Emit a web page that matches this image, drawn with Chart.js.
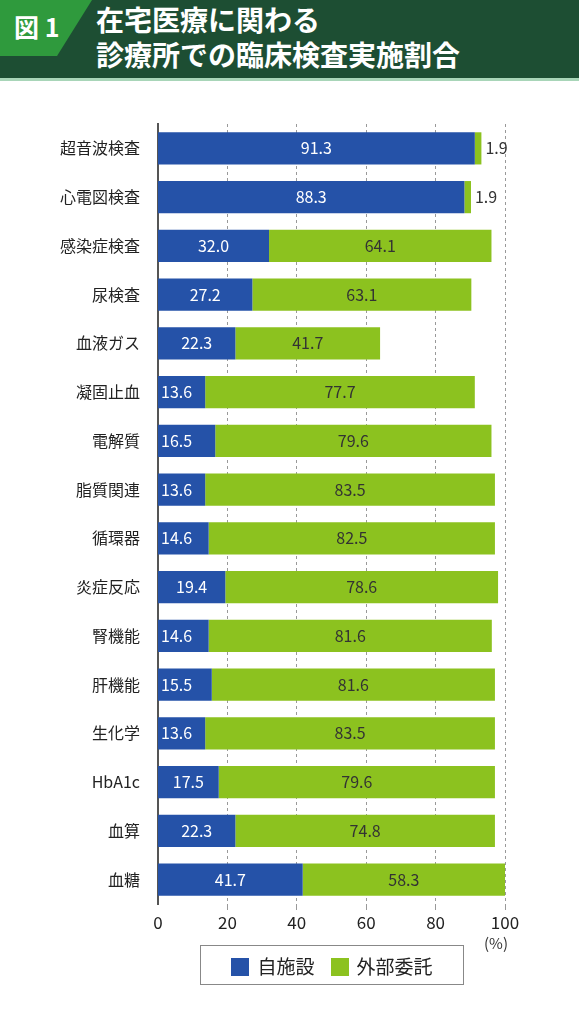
<!DOCTYPE html>
<html><head><meta charset="utf-8">
<script src="https://cdn.jsdelivr.net/npm/chart.js@4/dist/chart.umd.min.js"></script>
<style>
body{margin:0;width:579px;height:1024px;background:#fff;position:relative;font-family:"Noto Sans CJK JP",sans-serif;overflow:hidden}
#hdr{position:absolute;left:0;top:0;width:579px;height:78px;background:#1d4e33}
#tab{position:absolute;left:0;top:0;width:92px;height:56px;background:#2f9a3d;clip-path:polygon(0 0,100% 0,62% 100%,0 100%)}
#tabt{position:absolute;left:14px;top:8px;color:#fff;font-weight:bold;font-size:25px}
#ttl{position:absolute;left:96px;top:2px;color:#fff;font-weight:bold;font-size:28px;line-height:35px}
#line{position:absolute;left:0;top:78px;width:579px;height:3px;background:#a8d5b8}
#wrap{position:absolute;left:0;top:100px;width:579px;height:844px}
#pct{position:absolute;left:484px;top:932px;font-size:15px;color:#333}
#leg{position:absolute;left:200px;top:945px;width:264px;height:40px;border:1px solid #888;box-sizing:border-box;font-size:19px;color:#222;display:flex;align-items:center;justify-content:center;gap:16px}
.sw{display:inline-block;width:18px;height:18px;vertical-align:-2px;margin-right:8px}
</style></head><body>
<div id="hdr"></div><div id="tab"></div><div id="tabt">図 1</div>
<div id="ttl">在宅医療に関わる<br>診療所での臨床検査実施割合</div>
<div id="line"></div>
<div id="wrap"><canvas id="c"></canvas></div>
<div id="pct">(%)</div>
<div id="leg"><span><i class="sw" style="background:#2552a8"></i>自施設</span><span><i class="sw" style="background:#8cc21f"></i>外部委託</span></div>
<script>
const categories = ["超音波検査","心電図検査","感染症検査","尿検査","血液ガス","凝固止血","電解質","脂質関連","循環器","炎症反応","腎機能","肝機能","生化学","HbA1c","血算","血糖"];
const inHouse = [91.3,88.3,32.0,27.2,22.3,13.6,16.5,13.6,14.6,19.4,14.6,15.5,13.6,17.5,22.3,41.7];
const outsourced = [1.9,1.9,64.1,63.1,41.7,77.7,79.6,83.5,82.5,78.6,81.6,81.6,83.5,79.6,74.8,58.3];
const xTicks = [0,20,40,60,80,100];

const labelPlugin = {
  id: "vals",
  afterDatasetsDraw(chart) {
    const ctx = chart.ctx;
    ctx.save();
    ctx.font = "16px 'Noto Sans CJK JP'";
    ctx.textBaseline = "middle";
    chart.data.datasets.forEach((ds, di) => {
      chart.getDatasetMeta(di).data.forEach((bar, i) => {
        const v = ds.data[i];
        const w = Math.abs(bar.x - bar.base);
        const txt = v.toFixed(1);
        if (w < 30) {
          ctx.fillStyle = "#333"; ctx.textAlign = "left";
          ctx.fillText(txt, bar.x + 4, bar.y);
        } else if (di === 0 && w < 60) {
          ctx.fillStyle = "#fff"; ctx.textAlign = "left";
          ctx.fillText(txt, bar.base + 3, bar.y);
        } else {
          ctx.fillStyle = di === 0 ? "#fff" : "#333"; ctx.textAlign = "center";
          ctx.fillText(txt, (bar.x + bar.base) / 2, bar.y);
        }
      });
    });
    ctx.restore();
  }
};

new Chart(document.getElementById("c"), {
  type: "bar",
  data: {
    labels: categories,
    datasets: [
      { label: "自施設", data: inHouse, backgroundColor: "#2552a8", barPercentage: 0.66, categoryPercentage: 1 },
      { label: "外部委託", data: outsourced, backgroundColor: "#8cc21f", barPercentage: 0.66, categoryPercentage: 1 }
    ]
  },
  options: {
    indexAxis: "y",
    responsive: true,
    maintainAspectRatio: false,
    animation: false,
    layout: { padding: { top: 24, right: 74, bottom: 0, left: 0 } },
    plugins: { legend: { display: false }, tooltip: { enabled: false } },
    scales: {
      x: {
        stacked: true, min: 0, max: 100,
        afterBuildTicks: (s) => { s.ticks = xTicks.map(v => ({ value: v })); },
        afterFit: (s) => { s.height = 40; },
        grid: { color: "#999", lineWidth: (c) => c.tick.value === 0 ? 0 : 1, tickLength: 6, drawTicks: true },
        border: { display: false, dash: [3, 3] },
        ticks: { color: "#222", font: { size: 17, family: "Noto Sans CJK JP" }, padding: 2 }
      },
      y: {
        stacked: true,
        afterFit: (s) => { s.width = 158; },
        grid: { display: false },
        border: { color: "#555", width: 2 },
        ticks: { color: "#222", font: { size: 16, family: "Noto Sans CJK JP" }, padding: 10 }
      }
    }
  },
  plugins: [labelPlugin]
});
</script>
</body></html>
